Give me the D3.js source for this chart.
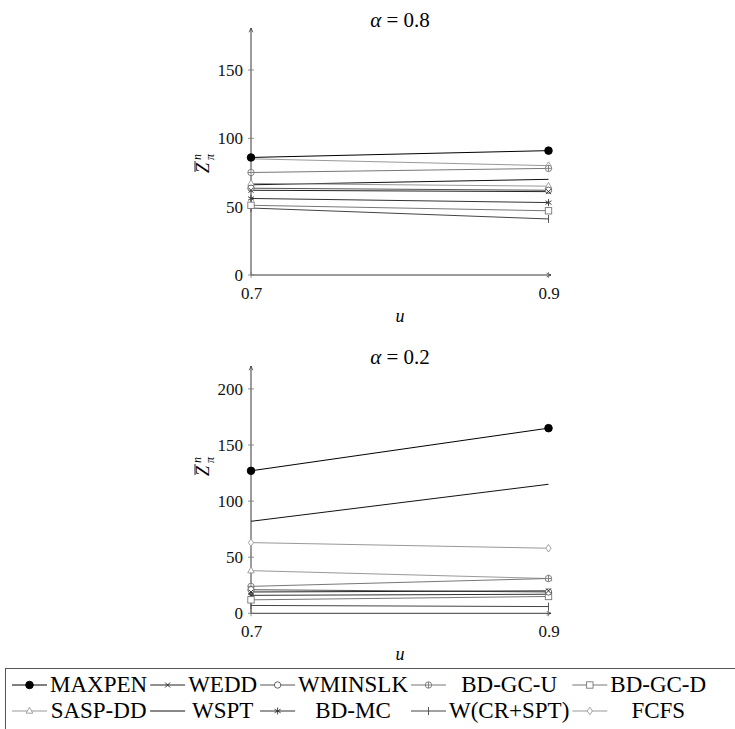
<!DOCTYPE html>
<html><head><meta charset="utf-8">
<script src="https://cdn.jsdelivr.net/npm/d3@7"></script>
<style>
text, tspan { font-family: "Liberation Serif" !important; }
</style>
</head>
<body style="margin:0"><svg id="c" width="735" height="729"></svg>
<script>
// ---- data ----
const xValues = [0.7, 0.9];
const xTickLabels = ["0.7", "0.9"];
const seriesNames = ["MAXPEN","WEDD","WMINSLK","BD-GC-U","BD-GC-D","SASP-DD","WSPT","BD-MC","W(CR+SPT)","FCFS"];
const alpha08 = {
  "MAXPEN":[86,91], "WEDD":[62,61], "WMINSLK":[63.5,62], "BD-GC-U":[75,78], "BD-GC-D":[51,47],
  "SASP-DD":[67,65], "WSPT":[66,70], "BD-MC":[56,53], "W(CR+SPT)":[49,41], "FCFS":[85,80]
};
const alpha02 = {
  "MAXPEN":[127,165], "WEDD":[19,20], "WMINSLK":[21,19], "BD-GC-U":[24,31], "BD-GC-D":[12,15],
  "SASP-DD":[38,31], "WSPT":[82,115], "BD-MC":[16,17], "W(CR+SPT)":[7,6], "FCFS":[63,58]
};
const yTicksTop = [0,50,100,150];
const yTicksBottom = [0,50,100,150,200];
const titles = ["0.8","0.2"];

// ---- styles ----
const style = {
  "MAXPEN":{c:"#000",m:"dot"}, "WEDD":{c:"#222",m:"x"}, "WMINSLK":{c:"#555",m:"o"},
  "BD-GC-U":{c:"#777",m:"oplus"}, "BD-GC-D":{c:"#777",m:"square"}, "SASP-DD":{c:"#999",m:"tri"},
  "WSPT":{c:"#111",m:"none"}, "BD-MC":{c:"#333",m:"star"}, "W(CR+SPT)":{c:"#444",m:"bar"},
  "FCFS":{c:"#999",m:"diamond"}
};

const svg = d3.select("#c");
function setFont(sel){ sel.each(function(){ this.setAttribute("font-family","Liberation Serif"); this.style.setProperty("font-family",'"Liberation Serif"',"important"); }); return sel; }
function txt(g){ return setFont(g.append("text")); }
const defs = svg.append("defs");
defs.append("marker").attr("id","arr").attr("viewBox","0 0 10 10").attr("refX",9).attr("refY",5)
  .attr("markerWidth",6).attr("markerHeight",6).attr("orient","auto")
  .append("path").attr("d","M1,1.5 L9,5 L1,8.5").attr("fill","none").attr("stroke","#222").attr("stroke-width",1.2);

function drawMarker(g, type, x, y, color){
  const s = g.append("g").attr("transform",`translate(${x},${y})`)
    .attr("stroke",color).attr("fill","none").attr("stroke-width",0.9);
  if(type==="dot") s.append("circle").attr("r",3.8).attr("fill",color);
  else if(type==="o") s.append("circle").attr("r",3.2).attr("fill","#fff");
  else if(type==="oplus"){ s.append("circle").attr("r",3.2).attr("fill","#fff");
    s.append("path").attr("d","M-3.2,0H3.2M0,-3.2V3.2"); }
  else if(type==="x") s.append("path").attr("d","M-2.5,-2.5L2.5,2.5M-2.5,2.5L2.5,-2.5");
  else if(type==="square") s.append("rect").attr("x",-3.2).attr("y",-3.2).attr("width",6.4).attr("height",6.4).attr("fill","#fff");
  else if(type==="tri") s.append("path").attr("d","M0,-3.8L3.3,2.2L-3.3,2.2Z").attr("fill","#fff");
  else if(type==="diamond") s.append("path").attr("d","M0,-3.8L2.6,0L0,3.8L-2.6,0Z").attr("fill","#fff");
  else if(type==="star") s.append("path").attr("d","M0,-3.5V3.5M-3,-1.8L3,1.8M-3,1.8L3,-1.8");
  else if(type==="bar") s.append("path").attr("d","M0,-4V4");
}

function drawChart(cfg){
  const x = d3.scaleLinear().domain([0.7,0.9]).range([251,548.5]);
  const y = d3.scaleLinear().domain([0,cfg.refVal]).range([cfg.y0, cfg.yRef]);
  const g = svg.append("g");
  g.append("line").attr("x1",251).attr("x2",251).attr("y1",cfg.y0).attr("y2",cfg.yTop)
    .attr("stroke","#222").attr("stroke-width",0.9).attr("marker-end","url(#arr)");
  g.append("line").attr("x1",251).attr("x2",551).attr("y1",cfg.y0).attr("y2",cfg.y0)
    .attr("stroke","#222").attr("stroke-width",0.9).attr("marker-end","url(#arr)");
  const ya = d3.axisLeft(y).tickValues(cfg.ticks).tickSize(0).tickPadding(8);
  const yg = g.append("g").attr("transform","translate(251,0)").call(ya);
  yg.attr("font-family","Liberation Serif");
  yg.select(".domain").remove();
  setFont(yg.selectAll("text")).attr("font-size",17).attr("fill","#111");
  cfg.ticks.forEach(t=>{
    g.append("line").attr("x1",248).attr("x2",254).attr("y1",y(t)).attr("y2",y(t)).attr("stroke","#777").attr("stroke-width",0.8);
  });
  const xa = d3.axisBottom(x).tickValues(xValues).tickFormat((d,i)=>xTickLabels[i]).tickSize(0).tickPadding(12);
  const xg = g.append("g").attr("transform",`translate(0,${cfg.y0})`).call(xa);
  xg.attr("font-family","Liberation Serif");
  xg.select(".domain").remove();
  setFont(xg.selectAll("text")).attr("font-size",17).attr("fill","#111");
  xValues.forEach(v=>{
    g.append("line").attr("x1",x(v)).attr("x2",x(v)).attr("y1",cfg.y0-3).attr("y2",cfg.y0+3).attr("stroke","#777").attr("stroke-width",0.8);
  });
  txt(g).attr("x",400).attr("y",cfg.y0+47).attr("text-anchor","middle")
    .attr("font-size",18).attr("font-style","italic").text("u");
  const t = txt(g).attr("x",400).attr("y",cfg.titleY).attr("text-anchor","middle").attr("font-size",21);
  t.append("tspan").attr("font-style","italic").text("α");
  t.append("tspan").text(" = " + cfg.title);
  const yl = g.append("g").attr("transform",`translate(209,${cfg.ylabY}) rotate(-90)`);
  txt(yl).attr("x",-8).attr("y",0).attr("font-size",18).attr("font-style","italic").text("Z");
  yl.append("line").attr("x1",-7).attr("x2",4).attr("y1",-14).attr("y2",-14).attr("stroke","#000").attr("stroke-width",0.9);
  txt(yl).attr("x",5).attr("y",-8).attr("font-size",12).attr("font-style","italic").text("n");
  txt(yl).attr("x",5).attr("y",5).attr("font-size",12).attr("font-style","italic").text("π");
  const line = d3.line().x((d,i)=>x(xValues[i])).y(d=>y(d));
  seriesNames.slice().reverse().forEach(name=>{
    const st = style[name];
    g.append("path").attr("d",line(cfg.data[name])).attr("fill","none").attr("stroke",st.c).attr("stroke-width",1);
  });
  seriesNames.slice().reverse().forEach(name=>{
    const st = style[name];
    cfg.data[name].forEach((v,i)=>drawMarker(g, st.m, x(xValues[i]), y(v), st.c));
  });
}

drawChart({data:alpha08, y0:275, refVal:150, yRef:70, yTop:28, ticks:yTicksTop, title:titles[0], titleY:27, ylabY:165});
drawChart({data:alpha02, y0:613.3, refVal:200, yRef:388.9, yTop:366, ticks:yTicksBottom, title:titles[1], titleY:364, ylabY:468});

// ---- legend ----
const lg = svg.append("g");
lg.append("rect").attr("x",5.5).attr("y",668.5).attr("width",740).attr("height",80)
  .attr("fill","none").attr("stroke","#555").attr("stroke-width",1);
const cols = 5, sampleW = 35, gap = 3;
const rowsY = [692, 718];
const fs = 23;
const meas = txt(svg).attr("font-size",fs);
const widths = seriesNames.map(n=>{ meas.text(n); return meas.node().getComputedTextLength(); });
meas.remove();
const colW = d3.range(cols).map(c=>Math.max(widths[c], widths[c+cols]));
let cx = 12;
const colX = [];
for(let c=0;c<cols;c++){ colX.push(cx); cx += sampleW + gap + colW[c] + gap; }
seriesNames.forEach((name,i)=>{
  const r = Math.floor(i/cols), c = i%cols;
  const st = style[name];
  const yy = rowsY[r] - 7;
  const sx = colX[c];
  lg.append("line").attr("x1",sx).attr("x2",sx+sampleW).attr("y1",yy).attr("y2",yy)
    .attr("stroke",st.c).attr("stroke-width",1);
  drawMarker(lg, st.m, sx+sampleW/2, yy, st.c);
  txt(lg).attr("x",sx+sampleW+gap+colW[c]/2).attr("y",rowsY[r]).attr("text-anchor","middle")
    .attr("font-size",fs).attr("fill","#000").text(name);
});
</script></body></html>
